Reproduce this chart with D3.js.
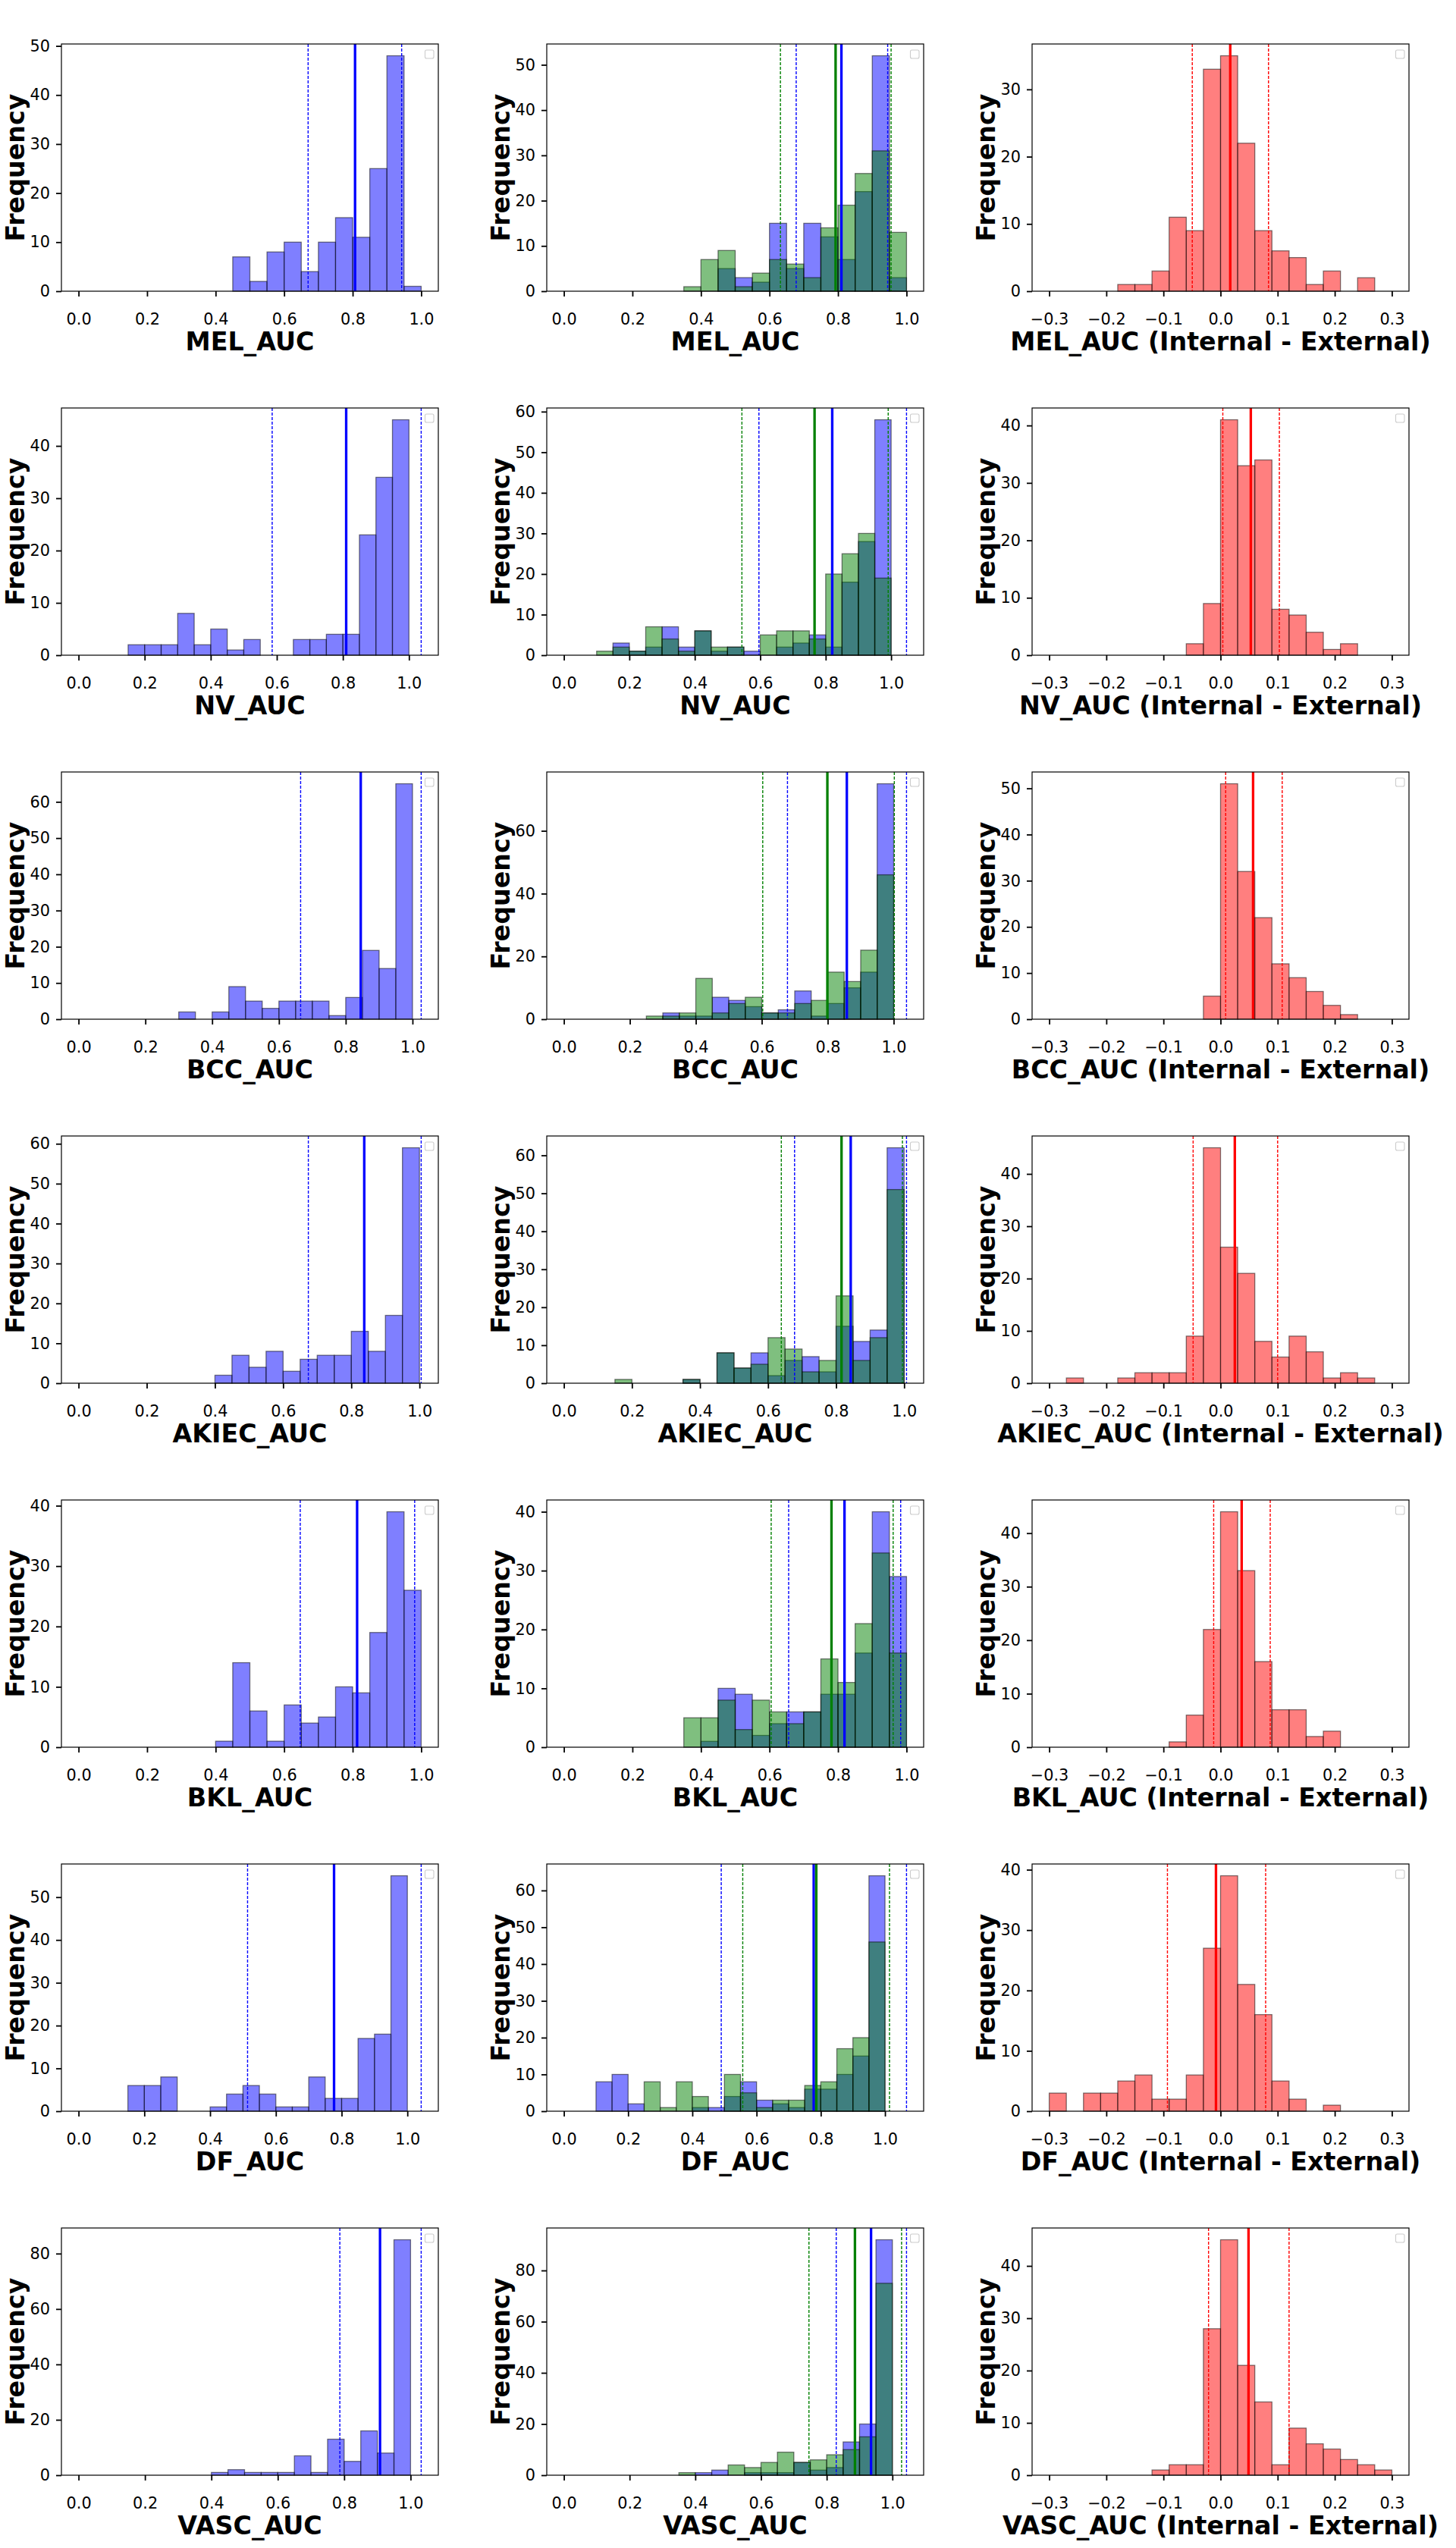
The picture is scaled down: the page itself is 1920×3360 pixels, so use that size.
<!DOCTYPE html>
<html>
<head>
<meta charset="utf-8">
<script src="https://cdn.jsdelivr.net/npm/d3@7"></script>
<style>
  body { margin: 0; background: #fff; }
  svg { display: block; }
  text { font-family: "DejaVu Sans", sans-serif; }
</style>
</head>
<body>
<svg id="chart" width="1920" height="3360"></svg>
<script>
const classes = ['MEL', 'NV', 'BCC', 'AKIEC', 'BKL', 'DF', 'VASC'];

// 20 bins over [0, 1]
const singleCounts = [
  [0,0,0,0,0,0,0,0,0,7,2,8,10,4,10,15,11,25,48,1],
  [0,0,0,2,2,2,8,2,5,1,3,0,0,3,3,4,4,23,34,45],
  [0,0,0,0,0,0,2,0,2,9,5,3,5,5,5,1,6,19,14,65],
  [0,0,0,0,0,0,0,0,2,7,4,8,3,6,7,7,13,8,17,59],
  [0,0,0,0,0,0,0,0,1,14,6,1,7,4,5,10,9,19,39,26],
  [0,0,0,6,6,8,0,0,1,4,6,4,1,1,8,3,3,17,18,55],
  [0,0,0,0,0,0,0,0,1,2,1,1,1,7,1,13,5,16,8,85]
];
const internalCounts = [
  [0,0,0,0,0,0,0,0,0,5,3,2,15,5,15,12,7,22,52,3],
  [0,0,0,3,1,2,7,2,6,1,2,1,0,2,3,5,2,18,28,58],
  [0,0,0,0,0,0,2,1,1,7,6,4,2,3,9,1,5,10,15,75],
  [0,0,0,0,0,0,0,1,0,8,4,8,2,6,7,3,15,11,14,62],
  [0,0,0,0,0,0,0,0,1,10,9,2,4,6,6,9,9,16,40,29],
  [0,0,8,10,2,0,0,0,1,1,4,8,3,2,1,6,6,10,15,64],
  [0,0,0,0,0,0,0,0,1,2,0,1,1,1,5,2,3,13,20,92]
];
const externalCounts = [
  [0,0,0,0,0,0,0,1,7,9,1,4,7,6,3,14,19,26,31,13],
  [0,0,1,2,1,7,4,1,6,2,2,0,5,6,6,4,20,25,30,19],
  [0,0,0,0,0,1,1,2,13,2,5,7,2,2,5,6,15,12,22,46],
  [0,0,0,1,0,0,0,1,0,8,4,5,12,9,3,6,23,6,12,51],
  [0,0,0,0,0,0,0,5,5,8,3,8,6,4,6,15,11,21,33,16],
  [0,0,0,0,0,8,1,8,4,0,10,5,1,3,3,7,8,17,20,46],
  [0,0,0,0,0,0,0,1,0,0,4,3,5,9,5,6,8,10,15,75]
];
// 20 bins over [-0.3, 0.3]
const diffCounts = [
  [0,0,0,0,1,1,3,11,9,33,35,22,9,6,5,1,3,0,2,0],
  [0,0,0,0,0,0,0,0,2,9,41,33,34,8,7,4,1,2,0,0],
  [0,0,0,0,0,0,0,0,0,5,51,32,22,12,9,6,3,1,0,0],
  [0,1,0,0,1,2,2,2,9,45,26,21,8,5,9,6,1,2,1,0],
  [0,0,0,0,0,0,0,1,6,22,44,33,16,7,7,2,3,0,0,0],
  [3,0,3,3,5,6,2,2,6,27,39,21,16,5,2,0,1,0,0,0],
  [0,0,0,0,0,0,1,2,2,28,45,21,14,2,9,6,5,3,2,1]
];

// [mean, lower, upper]
const singleStats = [
  [0.807, 0.670, 0.943], [0.810, 0.586, 1.037], [0.845, 0.665, 1.026],
  [0.838, 0.674, 1.005], [0.813, 0.647, 0.981], [0.777, 0.514, 1.042],
  [0.908, 0.787, 1.032]
];
const internalStats = [
  [0.810, 0.678, 0.945], [0.820, 0.596, 1.047], [0.858, 0.678, 1.039],
  [0.843, 0.678, 1.007], [0.819, 0.656, 0.983], [0.778, 0.490, 1.067],
  [0.935, 0.829, 1.043]
];
const externalStats = [
  [0.793, 0.632, 0.955], [0.766, 0.544, 0.991], [0.799, 0.603, 1.002],
  [0.816, 0.639, 0.995], [0.781, 0.605, 0.961], [0.786, 0.557, 1.014],
  [0.886, 0.746, 1.028]
];
const diffStats = [
  [0.017, -0.0495, 0.084], [0.053, 0.004, 0.103], [0.057, 0.009, 0.108],
  [0.025, -0.048, 0.100], [0.037, -0.012, 0.087], [-0.008, -0.093, 0.079],
  [0.049, -0.021, 0.120]
];

const aucTicks = [0, 0.2, 0.4, 0.6, 0.8, 1.0];
const diffTicks = [-0.3, -0.2, -0.1, 0, 0.1, 0.2, 0.3];
const singleYStep = [10, 10, 10, 10, 10, 10, 20];
const pairYStep = [10, 10, 20, 10, 10, 10, 20];
const diffYStep = [10, 10, 10, 10, 10, 10, 10];

let svg = d3.select('#chart');
let cellW = 640, cellH = 480;
let m = {l: 81, r: 62, t: 58, b: 96};

function drawPanel(row, col, series, stats, binLo, binHi, xTicks, yStep, label) {
  let g = svg.append('g')
    .attr('transform', `translate(${col * cellW},${row * cellH})`);

  let nb = series[0].counts.length;
  let bw = (binHi - binLo) / nb;

  // axvline pushes the x limits out when it falls beyond the bins
  let vals = stats.flatMap(s => s.v);
  let lo = Math.min(binLo, d3.min(vals));
  let hi = Math.max(binHi, d3.max(vals));
  let pad = (hi - lo) * 0.05;

  let x = d3.scaleLinear()
    .domain([lo - pad, hi + pad])
    .range([m.l, cellW - m.r]);

  let ymax = d3.max(series, s => d3.max(s.counts)) * 1.05;
  let y = d3.scaleLinear()
    .domain([0, ymax])
    .range([cellH - m.b, m.t]);

  for (let s of series) {
    g.append('g').selectAll('rect')
      .data(s.counts.map((c, i) => ({c, i})).filter(d => d.c > 0))
      .enter()
      .append('rect')
      .attr('x', d => x(binLo + d.i * bw))
      .attr('width', d => x(binLo + (d.i + 1) * bw) - x(binLo + d.i * bw))
      .attr('y', d => y(d.c))
      .attr('height', d => y(0) - y(d.c))
      .attr('fill', s.color)
      .attr('fill-opacity', 0.5)
      .attr('stroke', 'black')
      .attr('stroke-opacity', 0.5)
      .attr('stroke-width', 1.3);
  }

  for (let s of stats) {
    g.append('line')
      .attr('x1', x(s.v[0])).attr('x2', x(s.v[0]))
      .attr('y1', m.t).attr('y2', cellH - m.b)
      .attr('stroke', s.color)
      .attr('stroke-width', 3.3);

    for (let v of [s.v[1], s.v[2]]) {
      g.append('line')
        .attr('x1', x(v)).attr('x2', x(v))
        .attr('y1', m.t).attr('y2', cellH - m.b)
        .attr('stroke', s.color)
        .attr('stroke-width', 1.4)
        .attr('stroke-dasharray', '4,2');
    }
  }

  let xAxis = d3.axisBottom(x)
    .tickValues(xTicks)
    .tickSize(7)
    .tickPadding(22)
    .tickFormat(d3.format('.1f'));

  let yAxis = d3.axisLeft(y)
    .tickValues(d3.range(0, ymax, yStep))
    .tickSize(7)
    .tickPadding(8)
    .tickFormat(d3.format('d'));

  g.append('g')
    .attr('transform', `translate(0,${cellH - m.b})`)
    .call(xAxis)
    .call(a => a.select('.domain').remove())
    .call(a => a.selectAll('line').attr('stroke-width', 1.8))
    .attr('font-size', 20.8)
    .attr('font-family', 'DejaVu Sans');

  g.append('g')
    .attr('transform', `translate(${m.l},0)`)
    .call(yAxis)
    .call(a => a.select('.domain').remove())
    .call(a => a.selectAll('line').attr('stroke-width', 1.8))
    .attr('font-size', 20.8)
    .attr('font-family', 'DejaVu Sans');

  g.append('rect')
    .attr('x', m.l).attr('y', m.t)
    .attr('width', cellW - m.r - m.l)
    .attr('height', cellH - m.b - m.t)
    .attr('fill', 'none')
    .attr('stroke', 'black')
    .attr('stroke-width', 1.2);

  // empty legend frame
  g.append('rect')
    .attr('x', cellW - m.r - 17.5).attr('y', m.t + 8)
    .attr('width', 11.5).attr('height', 11)
    .attr('rx', 2)
    .attr('fill', 'white')
    .attr('stroke', '#cccccc')
    .attr('stroke-width', 1.1);

  g.append('text')
    .text(label)
    .attr('x', (m.l + cellW - m.r) / 2)
    .attr('y', 462)
    .attr('text-anchor', 'middle')
    .style('font-size', '33.3px')
    .style('font-weight', 'bold');

  g.append('text')
    .text('Frequency')
    .attr('transform', `translate(31.5,${(m.t + cellH - m.b) / 2}) rotate(-90)`)
    .attr('text-anchor', 'middle')
    .style('font-size', '33.3px')
    .style('font-weight', 'bold');
}

classes.forEach((cls, i) => {
  drawPanel(i, 0,
    [{counts: singleCounts[i], color: 'blue'}],
    [{v: singleStats[i], color: 'blue'}],
    0, 1, aucTicks, singleYStep[i], `${cls}_AUC`);

  drawPanel(i, 1,
    [{counts: internalCounts[i], color: 'blue'}, {counts: externalCounts[i], color: 'green'}],
    [{v: internalStats[i], color: 'blue'}, {v: externalStats[i], color: 'green'}],
    0, 1, aucTicks, pairYStep[i], `${cls}_AUC`);

  drawPanel(i, 2,
    [{counts: diffCounts[i], color: 'red'}],
    [{v: diffStats[i], color: 'red'}],
    -0.3, 0.3, diffTicks, diffYStep[i], `${cls}_AUC (Internal - External)`);
});
</script>
</body>
</html>
